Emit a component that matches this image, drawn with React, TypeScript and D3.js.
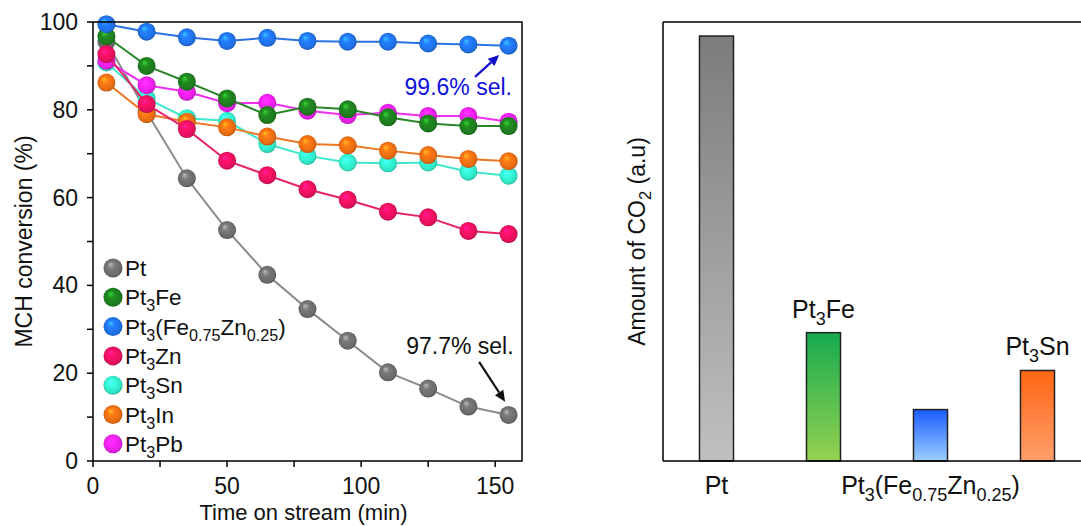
import React from "react";
import * as d3 from "d3";

// ---------- data ----------
const timeMin = [5, 20, 35, 50, 65, 80, 95, 110, 125, 140, 155];

const ptConv = [95.5, 79.5, 64.4, 52.6, 42.4, 34.6, 27.4, 20.2, 16.5, 12.4, 10.5];
const pt3FeConv = [96.7, 90.0, 86.4, 82.6, 78.8, 80.7, 80.1, 78.3, 76.9, 76.3, 76.3];
const pt3FeZnConv = [99.5, 97.8, 96.5, 95.7, 96.4, 95.7, 95.5, 95.5, 95.1, 94.9, 94.6];
const pt3ZnConv = [92.7, 81.3, 75.6, 68.4, 65.1, 61.9, 59.5, 56.8, 55.5, 52.4, 51.7];
const pt3SnConv = [90.8, 82.6, 78.1, 77.5, 72.2, 69.5, 68.0, 67.8, 68.0, 65.9, 65.0];
const pt3InConv = [86.2, 79.0, 77.3, 76.0, 73.9, 72.2, 71.9, 70.7, 69.7, 68.8, 68.3];
const pt3PbConv = [91.2, 85.6, 84.1, 81.5, 81.6, 79.8, 78.8, 79.3, 78.6, 78.6, 77.3];

const seriesLabels = [
  "Pt",
  "Pt_{3}Fe",
  "Pt_{3}(Fe_{0.75}Zn_{0.25})",
  "Pt_{3}Zn",
  "Pt_{3}Sn",
  "Pt_{3}In",
  "Pt_{3}Pb",
];
const seriesValues = [ptConv, pt3FeConv, pt3FeZnConv, pt3ZnConv, pt3SnConv, pt3InConv, pt3PbConv];
const markerColors = ["#6a6a6a", "#1d7a1d", "#1f6ee0", "#e0105c", "#2fe3c3", "#e46a12", "#e21fe2"];
const lineColors = ["#8a8a8a", "#2a862a", "#2b72e4", "#e8226a", "#3fe8cc", "#ee7622", "#f02ef0"];
// draw order (back to front)
const drawOrder = [0, 4, 5, 6, 1, 3, 2];

const xTicksMajor = [0, 50, 100, 150];
const xTicksMinor = [25, 75, 125];
const yTicksMajor = [0, 20, 40, 60, 80, 100];
const yTicksMinor = [10, 30, 50, 70, 90];

const barCategories = ["Pt", "Pt_{3}Fe", "Pt_{3}(Fe_{0.75}Zn_{0.25})", "Pt_{3}Sn"];
const barValues = [100, 30.2, 12.1, 21.3];
const barTopColors = ["#7c7c7c", "#17ab4f", "#1a5cff", "#ff6612"];
const barBottomColors = ["#c0c0c0", "#94d150", "#9dceff", "#ff9f6c"];
const barLabelPlacement = ["bottom", "top", "bottom", "top"];

// annotations in data units
const annotBlue = { text: "99.6% sel.", tx: 116.2, ty: 83.3, x1: 142.5, y1: 87.5, x2: 151.5, y2: 92.5 };
const annotBlack = { text: "97.7% sel.", tx: 116.8, ty: 24.4, x1: 144, y1: 22.6, x2: 153.7, y2: 13.5 };

// ---------- helpers ----------
const FONT = "'Liberation Sans', Arial, Helvetica, sans-serif";

function Chem({ s, size }: { s: string; size: number }) {
  const parts: { t: string; sub: boolean }[] = [];
  const re = /_\{([^}]*)\}/g;
  let last = 0;
  let m: RegExpExecArray | null;
  while ((m = re.exec(s)) !== null) {
    if (m.index > last) parts.push({ t: s.slice(last, m.index), sub: false });
    parts.push({ t: m[1], sub: true });
    last = m.index + m[0].length;
  }
  if (last < s.length) parts.push({ t: s.slice(last), sub: false });
  const shift = Math.round(size * 0.28);
  const out: React.ReactNode[] = [];
  let down = false;
  parts.forEach((p, i) => {
    let dy = 0;
    if (p.sub && !down) {
      dy = shift;
      down = true;
    } else if (!p.sub && down) {
      dy = -shift;
      down = false;
    }
    out.push(
      <tspan key={i} dy={dy} fontSize={p.sub ? size * 0.72 : size}>
        {p.t}
      </tspan>
    );
  });
  return <>{out}</>;
}

function Arrow({ x1, y1, x2, y2, color }: { x1: number; y1: number; x2: number; y2: number; color: string }) {
  const ang = Math.atan2(y2 - y1, x2 - x1);
  const L = 11;
  const W = 5;
  const bx = x2 - L * Math.cos(ang);
  const by = y2 - L * Math.sin(ang);
  const px = -Math.sin(ang);
  const py = Math.cos(ang);
  const pts = `${x2},${y2} ${bx + W * px},${by + W * py} ${bx - W * px},${by - W * py}`;
  return (
    <g>
      <line x1={x1} y1={y1} x2={bx} y2={by} stroke={color} strokeWidth={2.2} />
      <polygon points={pts} fill={color} />
    </g>
  );
}

export default function App() {
  const W = 1081;
  const H = 526;

  // left chart
  const L = { left: 93, right: 522, top: 22, bottom: 461 };
  const x = d3.scaleLinear().domain([0, 160]).range([L.left, L.right]);
  const y = d3.scaleLinear().domain([0, 100]).range([L.bottom, L.top]);
  const lineGen = d3
    .line<number>()
    .x((_, i) => x(timeMin[i]))
    .y((d) => y(d));
  const R = 9;

  // right chart
  const Rc = { left: 663, top: 22, bottom: 461 };
  const xb = d3
    .scaleBand<string>()
    .domain(barCategories)
    .range([Rc.left, Rc.left + 428])
    .paddingInner(0.682)
    .paddingOuter(0.341);
  const yb = d3.scaleLinear().domain([0, 103.3]).range([Rc.bottom, Rc.top]);

  const fs = 23;
  const fsR = 25;
  const legendX = 113;
  const legendY0 = 268;
  const legendStep = 29.3;

  return (
    <svg
      width={W}
      height={H}
      viewBox={`0 0 ${W} ${H}`}
      style={{ position: "absolute", left: 0, top: 0, background: "#fff" }}
      fontFamily={FONT}
    >
      <defs>
        {markerColors.map((c, i) => {
          const col = d3.color(c)!;
          return (
            <radialGradient key={i} id={`sph${i}`} cx="0.5" cy="0.5" r="0.55" fx="0.36" fy="0.3">
              <stop offset="0%" stopColor={col.brighter(1.6).formatHex()} />
              <stop offset="35%" stopColor={col.brighter(0.4).formatHex()} />
              <stop offset="80%" stopColor={col.formatHex()} />
              <stop offset="100%" stopColor={col.darker(1.0).formatHex()} />
            </radialGradient>
          );
        })}
        {barCategories.map((_, i) => (
          <linearGradient key={i} id={`bar${i}`} x1="0" y1="0" x2="0" y2="1">
            <stop offset="0%" stopColor={barTopColors[i]} />
            <stop offset="100%" stopColor={barBottomColors[i]} />
          </linearGradient>
        ))}
      </defs>
      <rect x={0} y={0} width={W} height={H} fill="#fff" />

      {/* ---------------- left chart ---------------- */}
      {drawOrder.map((si) => (
        <g key={si}>
          <path d={lineGen(seriesValues[si]) || ""} fill="none" stroke={lineColors[si]} strokeWidth={2} />
          {seriesValues[si].map((v, i) => (
            <circle key={i} cx={x(timeMin[i])} cy={y(v)} r={R} fill={`url(#sph${si})`} />
          ))}
        </g>
      ))}

      {/* frame */}
      <rect
        x={L.left}
        y={L.top}
        width={L.right - L.left}
        height={L.bottom - L.top}
        fill="none"
        stroke="#000"
        strokeWidth={1.5}
      />
      {/* y ticks */}
      {yTicksMajor.concat(yTicksMinor).map((t) => (
        <line key={`yt${t}`} x1={L.left - 6} x2={L.left} y1={y(t)} y2={y(t)} stroke="#000" strokeWidth={1.5} />
      ))}
      {yTicksMajor.map((t) => (
        <text key={`yl${t}`} x={L.left - 15} y={y(t) + 8} textAnchor="end" fontSize={fs} fill="#111">
          {t}
        </text>
      ))}
      {/* x ticks */}
      {xTicksMajor.concat(xTicksMinor).map((t) => (
        <line key={`xt${t}`} x1={x(t)} x2={x(t)} y1={L.bottom} y2={L.bottom + 6} stroke="#000" strokeWidth={1.5} />
      ))}
      {xTicksMajor.map((t) => (
        <text key={`xl${t}`} x={x(t)} y={L.bottom + 33} textAnchor="middle" fontSize={fs} fill="#111">
          {t}
        </text>
      ))}
      <text x={(L.left + L.right) / 2 - 4} y={520} textAnchor="middle" fontSize={22} fill="#111">
        Time on stream (min)
      </text>
      <text
        transform={`translate(32, ${(L.top + L.bottom) / 2}) rotate(-90)`}
        textAnchor="middle"
        fontSize={fs}
        fill="#111"
      >
        MCH conversion (%)
      </text>

      {/* legend */}
      {seriesLabels.map((lab, i) => (
        <g key={`lg${i}`}>
          <circle cx={legendX} cy={legendY0 + i * legendStep} r={9.5} fill={`url(#sph${i})`} />
          <text x={legendX + 12} y={legendY0 + i * legendStep + 8} fontSize={fs - 0.5} fill="#111">
            <Chem s={lab} size={fs - 0.5} />
          </text>
        </g>
      ))}

      {/* annotations */}
      <text x={x(annotBlue.tx)} y={y(annotBlue.ty)} fontSize={fs} fill="#1010dd">
        {annotBlue.text}
      </text>
      <Arrow x1={x(annotBlue.x1)} y1={y(annotBlue.y1)} x2={x(annotBlue.x2)} y2={y(annotBlue.y2)} color="#1010cc" />
      <text x={x(annotBlack.tx)} y={y(annotBlack.ty)} fontSize={fs} fill="#111">
        {annotBlack.text}
      </text>
      <Arrow x1={x(annotBlack.x1)} y1={y(annotBlack.y1)} x2={x(annotBlack.x2)} y2={y(annotBlack.y2)} color="#111" />

      {/* ---------------- right chart ---------------- */}
      {barCategories.map((c, i) => (
        <rect
          key={`b${i}`}
          x={xb(c)}
          y={yb(barValues[i])}
          width={xb.bandwidth()}
          height={Rc.bottom - yb(barValues[i])}
          fill={`url(#bar${i})`}
          stroke="#222"
          strokeWidth={1.5}
        />
      ))}
      {barCategories.map((c, i) =>
        barLabelPlacement[i] === "top" ? (
          <text
            key={`bl${i}`}
            x={(xb(c) || 0) + xb.bandwidth() / 2}
            y={yb(barValues[i]) - 15}
            textAnchor="middle"
            fontSize={fsR}
            fill="#111"
          >
            <Chem s={c} size={fsR} />
          </text>
        ) : (
          <text
            key={`bl${i}`}
            x={(xb(c) || 0) + xb.bandwidth() / 2}
            y={Rc.bottom + 33}
            textAnchor="middle"
            fontSize={fsR}
            fill="#111"
          >
            <Chem s={c} size={fsR} />
          </text>
        )
      )}
      <line x1={Rc.left} x2={W} y1={Rc.top} y2={Rc.top} stroke="#000" strokeWidth={1.5} />
      <line x1={Rc.left} x2={W} y1={Rc.bottom} y2={Rc.bottom} stroke="#000" strokeWidth={1.5} />
      <line x1={Rc.left} x2={Rc.left} y1={Rc.top} y2={Rc.bottom} stroke="#000" strokeWidth={1.5} />
      <text
        transform={`translate(645, ${(Rc.top + Rc.bottom) / 2}) rotate(-90)`}
        textAnchor="middle"
        fontSize={fs}
        fill="#111"
      >
        <Chem s="Amount of CO_{2} (a.u)" size={fs} />
      </text>
    </svg>
  );
}
